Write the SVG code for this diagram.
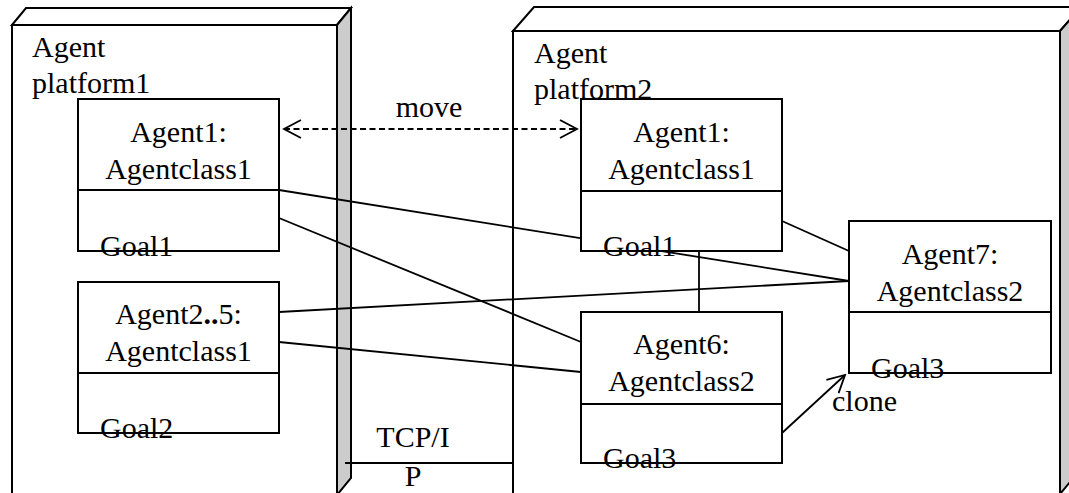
<svg xmlns="http://www.w3.org/2000/svg" width="1069" height="493" viewBox="0 0 1069 493">
  <defs>
    <style>
      text { font-family: "Liberation Serif", "Times New Roman", serif; font-size: 30px; fill: #000; }
      .mid { text-anchor: middle; }
      .edge { fill: none; stroke: #000; stroke-width: 2; }
      .face { fill: #fff; stroke: #000; stroke-width: 2; stroke-linejoin: miter; }
      .side { fill: #cccccc; stroke: #000; stroke-width: 2; }
      .box { fill: #fff; stroke: #000; stroke-width: 2; }
      .link { fill: none; stroke: #000; stroke-width: 1.8; }
      .dash { stroke-dasharray: 6 3.5; }
    </style>
    <marker id="open" viewBox="0 0 20 20" refX="18" refY="10" markerWidth="20" markerHeight="20" markerUnits="userSpaceOnUse" orient="auto-start-reverse">
      <path d="M1,1 L18,10 L1,19" fill="none" stroke="#000" stroke-width="1.8"/>
    </marker>
  </defs>

  <rect width="1069" height="493" fill="#fff"/>

  <!-- platform 1 (3D node) -->
  <g id="platform1">
    <polygon class="face" points="12,25 26,8 351,8 337,25"/>
    <polygon class="side" points="337,25 351,8 351,478 337,495"/>
    <polygon class="face" points="12,25 337,25 337,495 12,495"/>
    <text x="32" y="57">Agent</text>
    <text x="32" y="93">platform1</text>
  </g>

  <!-- platform 2 (3D node) -->
  <g id="platform2">
    <polygon class="face" points="513,31 534,7 1081,7 1060,31"/>
    <polygon class="side" points="1060,31 1081,7 1081,469 1060,494"/>
    <polygon class="face" points="513,31 1060,31 1060,494 513,494"/>
    <text x="534" y="63">Agent</text>
    <text x="534" y="99">platform2</text>
  </g>

  <!-- connectors -->
  <g id="connectors">
    <line class="link dash" x1="284" y1="129" x2="577" y2="129" marker-start="url(#open)" marker-end="url(#open)"/>
    <line class="link" x1="279" y1="190" x2="849" y2="281"/>
    <line class="link" x1="279" y1="218" x2="581" y2="342"/>
    <line class="link" x1="279" y1="312" x2="849" y2="281"/>
    <line class="link" x1="279" y1="342" x2="581" y2="372"/>
    <line class="link" x1="782" y1="221" x2="849" y2="251"/>
    <line class="link" x1="699" y1="251" x2="699" y2="312"/>
    <line class="link" x1="782" y1="433" x2="845" y2="375" marker-end="url(#open)"/>
    <line class="link" x1="345" y1="463" x2="513" y2="463"/>
    <text class="mid" x="429" y="117">move</text>
    <text x="832" y="411">clone</text>
    <text class="mid" x="413" y="447">TCP/I</text>
    <text class="mid" x="413" y="486">P</text>
  </g>

  <!-- Agent1 on platform 1 -->
  <g id="agent1-p1">
    <rect class="box" x="78" y="99" width="201" height="152"/>
    <line class="edge" x1="78" y1="190" x2="279" y2="190"/>
    <text class="mid" x="178.5" y="142">Agent1:</text>
    <text class="mid" x="178.5" y="179">Agentclass1</text>
    <text x="100" y="256">Goal1</text>
  </g>

  <!-- Agent2..5 on platform 1 -->
  <g id="agent2-5">
    <rect class="box" x="78" y="282" width="201" height="151"/>
    <line class="edge" x1="78" y1="373" x2="279" y2="373"/>
    <text class="mid" x="178.5" y="324">Agent2<tspan font-weight="bold">..</tspan>5:</text>
    <text class="mid" x="178.5" y="361">Agentclass1</text>
    <text x="100" y="438">Goal2</text>
  </g>

  <!-- Agent1 on platform 2 -->
  <g id="agent1-p2">
    <rect class="box" x="581" y="99" width="201" height="152"/>
    <line class="edge" x1="581" y1="191" x2="782" y2="191"/>
    <text class="mid" x="681.5" y="142">Agent1:</text>
    <text class="mid" x="681.5" y="179">Agentclass1</text>
    <text x="603" y="256">Goal1</text>
  </g>

  <!-- Agent6 -->
  <g id="agent6">
    <rect class="box" x="581" y="312" width="201" height="151"/>
    <line class="edge" x1="581" y1="404" x2="782" y2="404"/>
    <text class="mid" x="681.5" y="354">Agent6:</text>
    <text class="mid" x="681.5" y="391">Agentclass2</text>
    <text x="603" y="468">Goal3</text>
  </g>

  <!-- Agent7 -->
  <g id="agent7">
    <rect class="box" x="849" y="221" width="202" height="152"/>
    <line class="edge" x1="849" y1="312" x2="1051" y2="312"/>
    <text class="mid" x="950" y="264">Agent7:</text>
    <text class="mid" x="950" y="301">Agentclass2</text>
    <text x="871" y="378">Goal3</text>
  </g>
</svg>
